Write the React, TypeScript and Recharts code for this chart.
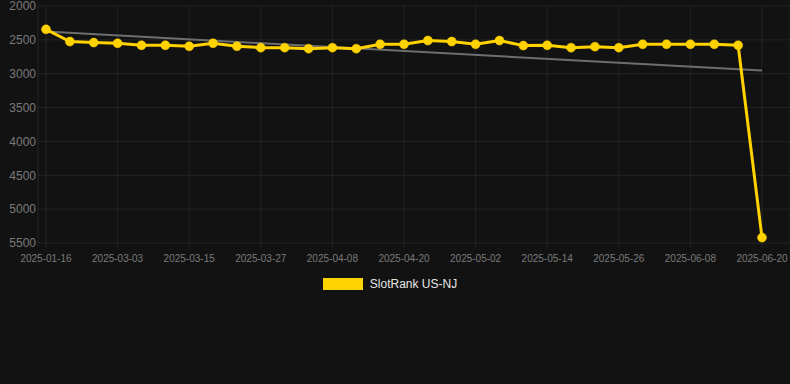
import { LineChart, Line, XAxis, YAxis, CartesianGrid, Legend } from 'recharts';

// dates on the x axis (one per point)
const dates = [
    '2025-01-16', '2025-02-19', '2025-02-27', '2025-03-03', '2025-03-07', '2025-03-11',
    '2025-03-15', '2025-03-19', '2025-03-23', '2025-03-27', '2025-03-31', '2025-04-04',
    '2025-04-08', '2025-04-12', '2025-04-16', '2025-04-20', '2025-04-24', '2025-04-28',
    '2025-05-02', '2025-05-06', '2025-05-10', '2025-05-14', '2025-05-18', '2025-05-22',
    '2025-05-26', '2025-05-30', '2025-06-04', '2025-06-08', '2025-06-12', '2025-06-16',
    '2025-06-20',
];

// SlotRank US-NJ rank values
const rankValues = [
    2345, 2525, 2540, 2550, 2580, 2580, 2595, 2550, 2595, 2615, 2615, 2630, 2615, 2630,
    2565, 2565, 2510, 2525, 2565, 2510, 2585, 2580, 2615, 2600, 2615, 2565, 2565, 2565,
    2565, 2580, 5420,
];

// trend line end points (middle left empty, joined)
const trendValues: (number | null)[] = [2376, ...Array(29).fill(null), 2954];

const xTickLabels = [
    '2025-01-16', '2025-03-03', '2025-03-15', '2025-03-27', '2025-04-08', '2025-04-20',
    '2025-05-02', '2025-05-14', '2025-05-26', '2025-06-08', '2025-06-20',
];
const yTicks = [2000, 2500, 3000, 3500, 4000, 4500, 5000, 5500];

const data = dates.map((date, i) => ({ date, rank: rankValues[i], trend: trendValues[i] }));

const YELLOW = '#FFD200';
const GRID = 'rgba(255,255,255,0.07)';
const FONT = '"Liberation Sans", Arial, Helvetica, sans-serif';

function LegendContent() {
    return (
        <div style={{ display: 'flex', justifyContent: 'center', alignItems: 'center', height: 20, paddingRight: 10 }}>
            <span style={{ width: 40, height: 12, background: YELLOW, display: 'inline-block' }} />
            <span style={{ marginLeft: 7, color: '#e6e6e6', fontSize: 12, fontFamily: FONT }}>
                SlotRank US-NJ
            </span>
        </div>
    );
}

export default function App() {
    return (
        <div style={{ width: 790, height: 384, background: '#121212' }}>
            <style>{'body{margin:0;background:#121212}'}</style>
            <LineChart
                width={790}
                height={384}
                data={data}
                margin={{ top: 6, right: 0, left: 0, bottom: 90 }}
            >
                <CartesianGrid stroke={GRID} />
                <XAxis
                    dataKey="date"
                    ticks={xTickLabels}
                    interval={0}
                    height={31}
                    padding={{ left: 8, right: 28 }}
                    axisLine={false}
                    tickLine={{ stroke: GRID }}
                    tickSize={5}
                    tickMargin={7}
                    tick={{ fill: '#7a7a7a', fontSize: 10, fontFamily: FONT }}
                />
                <YAxis
                    reversed
                    domain={[2000, 5500]}
                    ticks={yTicks}
                    interval={0}
                    width={38}
                    axisLine={false}
                    tickLine={false}
                    tickSize={0}
                    tickMargin={2}
                    tick={{ fill: '#7a7a7a', fontSize: 12, fontFamily: FONT }}
                />
                <Legend verticalAlign="bottom" content={<LegendContent />} />
                <Line
                    dataKey="trend"
                    stroke="#6e6e6e"
                    strokeWidth={2}
                    dot={false}
                    connectNulls
                    legendType="none"
                    isAnimationActive={false}
                />
                <Line
                    dataKey="rank"
                    name="SlotRank US-NJ"
                    type="linear"
                    stroke={YELLOW}
                    strokeWidth={3}
                    dot={{ r: 4.5, fill: YELLOW, stroke: YELLOW, strokeWidth: 0.5 }}
                    activeDot={false}
                    isAnimationActive={false}
                />
            </LineChart>
        </div>
    );
}
